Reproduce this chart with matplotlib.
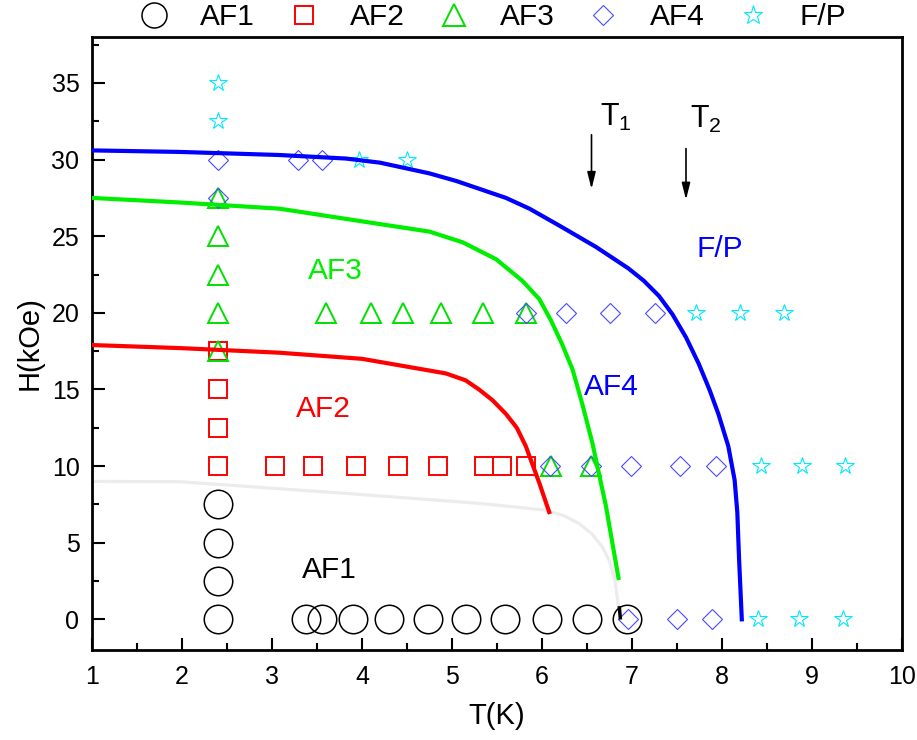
import matplotlib
matplotlib.use("Agg")
import matplotlib.pyplot as plt
from matplotlib.lines import Line2D
from matplotlib.ticker import MultipleLocator

plt.rcParams['font.family'] = ['Liberation Sans', 'DejaVu Sans']

# ---- data (T in K, H in kOe) ----
af1_T = [2.4, 2.4, 2.4, 2.4, 3.38, 3.56, 3.90, 4.30, 4.73, 5.16, 5.59, 6.05, 6.50, 6.94]
af1_H = [0, 2.5, 5, 7.5, 0, 0, 0, 0, 0, 0, 0, 0, 0, 0]

af2_T = [2.4, 2.4, 2.4, 2.4, 3.03, 3.45, 3.93, 4.40, 4.85, 5.36, 5.55, 5.82]
af2_H = [10, 12.5, 15, 17.5, 10, 10, 10, 10, 10, 10, 10, 10]

af3_T = [2.4, 2.4, 2.4, 2.4, 2.4, 3.60, 4.10, 4.46, 4.88, 5.34, 5.82, 6.10, 6.54]
af3_H = [17.5, 20, 22.5, 25, 27.5, 20, 20, 20, 20, 20, 20, 10, 10]

af4_T = [2.4, 2.4, 3.29, 3.56, 5.82, 6.27, 6.76, 7.25, 6.09, 6.54, 6.99, 7.53, 7.93, 6.95, 7.50, 7.89]
af4_H = [30, 27.5, 30, 30, 20, 20, 20, 20, 10, 10, 10, 10, 10, 0, 0, 0]

fp_T = [2.4, 2.4, 3.97, 4.50, 7.71, 8.20, 8.69, 8.43, 8.89, 9.37, 8.40, 8.85, 9.34]
fp_H = [35, 32.5, 30, 30, 20, 20, 20, 10, 10, 10, 0, 0, 0]

blue_T = [1.0, 1.98, 3.08, 3.82, 4.2, 4.75, 5.05, 5.30, 5.60, 5.86, 6.22, 6.60, 6.96, 7.13, 7.30, 7.45, 7.60, 7.74, 7.86, 7.96, 8.07, 8.14, 8.17, 8.19, 8.22]
blue_H = [30.6, 30.5, 30.3, 30.07, 29.8, 29.1, 28.6, 28.1, 27.5, 26.8, 25.6, 24.3, 22.9, 22.1, 21.1, 19.9, 18.4, 16.7, 15.0, 13.4, 11.3, 9.1, 7.0, 3.9, 0.0]

green_T = [1.0, 1.98, 3.08, 4.19, 4.75, 5.12, 5.49, 5.78, 5.97, 6.10, 6.22, 6.34, 6.45, 6.56, 6.71, 6.85]
green_H = [27.5, 27.2, 26.8, 25.8, 25.3, 24.6, 23.5, 22.1, 20.9, 19.5, 18.0, 16.3, 14.0, 11.5, 7.4, 2.7]

red_T = [1.0, 1.98, 3.08, 4.0, 4.49, 4.93, 5.15, 5.30, 5.45, 5.60, 5.72, 5.82, 5.97, 6.08]
red_H = [17.9, 17.7, 17.4, 17.0, 16.5, 16.05, 15.6, 15.0, 14.3, 13.4, 12.5, 11.3, 8.9, 7.0]

gray_T = [1.0, 1.98, 3.82, 5.30, 6.04, 6.25, 6.41, 6.55, 6.67, 6.75, 6.81, 6.85]
gray_H = [9.0, 8.98, 8.22, 7.57, 7.13, 6.75, 6.26, 5.6, 4.74, 3.8, 2.56, 0.82]

legend_labels = ['AF1', 'AF2', 'AF3', 'AF4', 'F/P']

fig = plt.figure(figsize=(9.17, 7.4), dpi=100)
ax = fig.add_axes([92/917, 90/740, 810/917, 613/740])

# markers
ax.plot(af1_T, af1_H, ls='none', marker='o', ms=20.5, mfc='none', mec='black', mew=1.1, zorder=2)
ax.plot(af2_T, af2_H, ls='none', marker='s', ms=12.5, mfc='none', mec='#ff0000', mew=1.4, zorder=2)
ax.plot(af3_T, af3_H, ls='none', marker='^', ms=15, mfc='none', mec='#00e000', mew=1.4, zorder=2)
ax.plot(af4_T, af4_H, ls='none', marker='D', ms=9.8, mfc='none', mec='#4a4aff', mew=0.8, zorder=2)
ax.plot(fp_T, fp_H, ls='none', marker='*', ms=13, mfc='none', mec='#00e8ff', mew=0.8, zorder=2)

# boundary lines
ax.plot(gray_T, gray_H, color='#ececec', lw=2.3, zorder=1, solid_joinstyle='round')
ax.plot(red_T, red_H, color='#ff0000', lw=3, zorder=3, solid_joinstyle='round')
ax.plot(green_T, green_H, color='#00ee00', lw=3, zorder=3, solid_joinstyle='round')
ax.plot(blue_T, blue_H, color='#0000ff', lw=3, zorder=3, solid_joinstyle='round')
ax.plot([6.86, 6.87], [0.75, 0.1], color='black', lw=2.5, zorder=3)

# arrows
ax.annotate('', xy=(6.55, 27.9), xytext=(6.55, 31.8),
            arrowprops=dict(arrowstyle='-|>,head_length=1.0,head_width=0.25', color='black', lw=1.2))
ax.annotate('', xy=(7.60, 27.2), xytext=(7.60, 30.9),
            arrowprops=dict(arrowstyle='-|>,head_length=1.0,head_width=0.25', color='black', lw=1.2))
ax.text(6.65, 32.2, r'T$_{\mathregular{1}}$', fontsize=22, color='black')
ax.text(7.65, 32.1, r'T$_{\mathregular{2}}$', fontsize=22, color='black')

# region labels
ax.text(3.40, 22.18, 'AF3', color='#00ee00', fontsize=21.5)
ax.text(3.27, 13.2, 'AF2', color='#ff0000', fontsize=21.5)
ax.text(6.47, 14.63, 'AF4', color='#0000ff', fontsize=21.5)
ax.text(7.72, 23.65, 'F/P', color='#0000ff', fontsize=21.5)
ax.text(3.33, 2.67, 'AF1', color='black', fontsize=21.5)

ax.set_xlim(1, 10)
ax.set_ylim(-2, 38)
ax.xaxis.set_major_locator(MultipleLocator(1))
ax.xaxis.set_minor_locator(MultipleLocator(0.5))
ax.yaxis.set_major_locator(MultipleLocator(5))
ax.yaxis.set_minor_locator(MultipleLocator(2.5))
ax.tick_params(which='both', direction='in', top=False, right=False, width=1.5)
ax.tick_params(which='major', length=9, labelsize=18)
ax.tick_params(axis='x', which='major', pad=11)
ax.tick_params(axis='y', which='major', pad=9)
ax.tick_params(which='minor', length=5)
for s in ax.spines.values():
    s.set_linewidth(2)

ax.set_xlabel('T(K)', fontsize=21, labelpad=9)
ax.set_ylabel('H(kOe)', fontsize=21, labelpad=6)

handles = [
    Line2D([], [], ls='none', marker='o', ms=18, mfc='none', mec='black', mew=1.1),
    Line2D([], [], ls='none', marker='s', ms=13, mfc='none', mec='#ff0000', mew=1.4),
    Line2D([], [], ls='none', marker='^', ms=16, mfc='none', mec='#00e000', mew=1.4),
    Line2D([], [], ls='none', marker='D', ms=10.5, mfc='none', mec='#4a4aff', mew=0.8),
    Line2D([], [], ls='none', marker='*', ms=14, mfc='none', mec='#00e8ff', mew=0.8),
]
fig.legend(handles, legend_labels, loc='center', bbox_to_anchor=(491/917, 1 - 17/740),
           ncol=5, frameon=False, fontsize=21.5, handlelength=1.2, handletextpad=0.95,
           columnspacing=1.03, borderpad=0, borderaxespad=0)

fig.savefig('out.png', dpi=100)
